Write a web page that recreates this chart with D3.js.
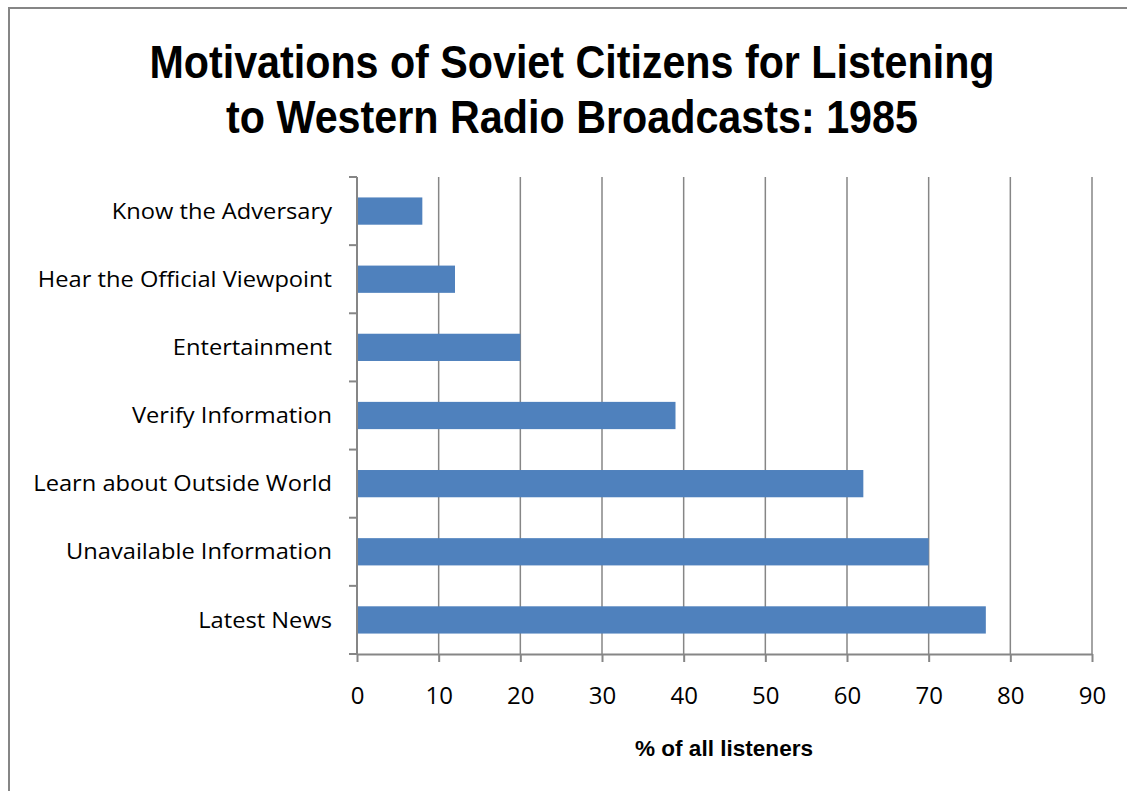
<!DOCTYPE html>
<html>
<head>
<meta charset="utf-8">
<script src="https://cdn.jsdelivr.net/npm/d3@7"></script>
<style>
  body { margin: 0; background: #fff; }
  svg { display: block; }
</style>
</head>
<body>
<div id="chart"></div>
<script>
var categories = ["Know the Adversary", "Hear the Official Viewpoint", "Entertainment",
    "Verify Information", "Learn about Outside World", "Unavailable Information", "Latest News"];
var values = [8, 12, 20, 39, 62, 70, 77];
var xTicks = [0, 10, 20, 30, 40, 50, 60, 70, 80, 90];
var titleLines = ["Motivations of Soviet Citizens for Listening", "to Western Radio Broadcasts: 1985"];
var xTitle = "% of all listeners";

var width = 1127, height = 791;
var margin = { top: 177, right: 35, bottom: 137, left: 357 };
var boldFont = "'Liberation Sans', Arial, sans-serif";
var font = "'Open Sans', 'Liberation Sans', sans-serif";
var labelStretch = 1.075;

var svg = d3.select("#chart").append("svg")
    .attr("width", width)
    .attr("height", height);

// outer frame, runs off the right and bottom edges
svg.append("rect")
    .attr("x", 9).attr("y", 8)
    .attr("width", width + 20).attr("height", height + 20)
    .attr("fill", "none")
    .attr("stroke", "#868686")
    .attr("stroke-width", 2);

var x = d3.scaleLinear()
    .domain([0, 90])
    .range([margin.left, width - margin.right]);

var y = d3.scaleBand()
    .domain(categories)
    .range([margin.top, height - margin.bottom])
    .paddingInner(0.6)
    .paddingOuter(0.3);

var plotTop = margin.top, plotBottom = height - margin.bottom;

// vertical gridlines
svg.append("g")
    .selectAll("line")
    .data(xTicks.slice(1))
    .enter().append("line")
    .attr("x1", function (d) { return x(d); })
    .attr("x2", function (d) { return x(d); })
    .attr("y1", plotTop)
    .attr("y2", plotBottom)
    .attr("stroke", "#868686")
    .attr("stroke-width", 1.5);

// bars
svg.append("g")
    .selectAll("rect")
    .data(values)
    .enter().append("rect")
    .attr("x", x(0))
    .attr("y", function (d, i) { return y(categories[i]); })
    .attr("width", function (d) { return x(d) - x(0); })
    .attr("height", y.bandwidth())
    .attr("fill", "#4F81BD");

// x axis
var xAxis = svg.append("g")
    .attr("transform", "translate(0," + plotBottom + ")")
    .call(d3.axisBottom(x).tickValues(xTicks).tickSize(8).tickPadding(25).tickSizeOuter(0));

// y axis, ticks sit between categories
var yBounds = d3.range(categories.length + 1).map(function (i) { return plotTop + i * (plotBottom - plotTop) / categories.length; });
var yAxis = svg.append("g");
yAxis.append("line")
    .attr("x1", x(0)).attr("x2", x(0))
    .attr("y1", plotTop).attr("y2", plotBottom)
    .attr("stroke", "#868686").attr("stroke-width", 2);
yAxis.selectAll("line.tick")
    .data(yBounds)
    .enter().append("line")
    .attr("class", "tick")
    .attr("x1", x(0) - 8).attr("x2", x(0))
    .attr("y1", function (d) { return d; })
    .attr("y2", function (d) { return d; })
    .attr("stroke", "#868686").attr("stroke-width", 2);
yAxis.selectAll("text")
    .data(categories)
    .enter().append("text")
    .attr("x", x(0) - 25)
    .attr("y", function (d) { return y(d) + y.bandwidth() / 2; })
    .attr("dy", "0.35em")
    .attr("text-anchor", "end")
    .style("font-family", font)
    .style("font-size", "22px")
    .attr("fill", "#000")
    .text(function (d) { return d; })
    .each(function () {
        // the original face is a little wider than Open Sans
        var w = this.getComputedTextLength();
        d3.select(this).attr("textLength", w * labelStretch).attr("lengthAdjust", "spacingAndGlyphs");
    });

xAxis.select(".domain").attr("stroke", "#868686").attr("stroke-width", 2);
xAxis.selectAll(".tick line").attr("stroke", "#868686").attr("stroke-width", 2);
xAxis.selectAll(".tick text")
    .style("font-family", font)
    .style("font-size", "24px")
    .attr("fill", "#000");

// axis title
svg.append("text")
    .attr("x", 724)
    .attr("y", 756)
    .attr("text-anchor", "middle")
    .attr("textLength", 178)
    .attr("lengthAdjust", "spacingAndGlyphs")
    .style("font-family", boldFont)
    .style("font-size", "22px")
    .style("font-weight", "bold")
    .text(xTitle);

// chart title
var titleWidths = [845, 692];
svg.append("g")
    .selectAll("text")
    .data(titleLines)
    .enter().append("text")
    .attr("x", 572)
    .attr("y", function (d, i) { return 78 + i * 55; })
    .attr("text-anchor", "middle")
    .attr("textLength", function (d, i) { return titleWidths[i]; })
    .attr("lengthAdjust", "spacingAndGlyphs")
    .style("font-family", boldFont)
    .style("font-size", "46px")
    .style("font-weight", "bold")
    .text(function (d) { return d; });
</script>
</body>
</html>
